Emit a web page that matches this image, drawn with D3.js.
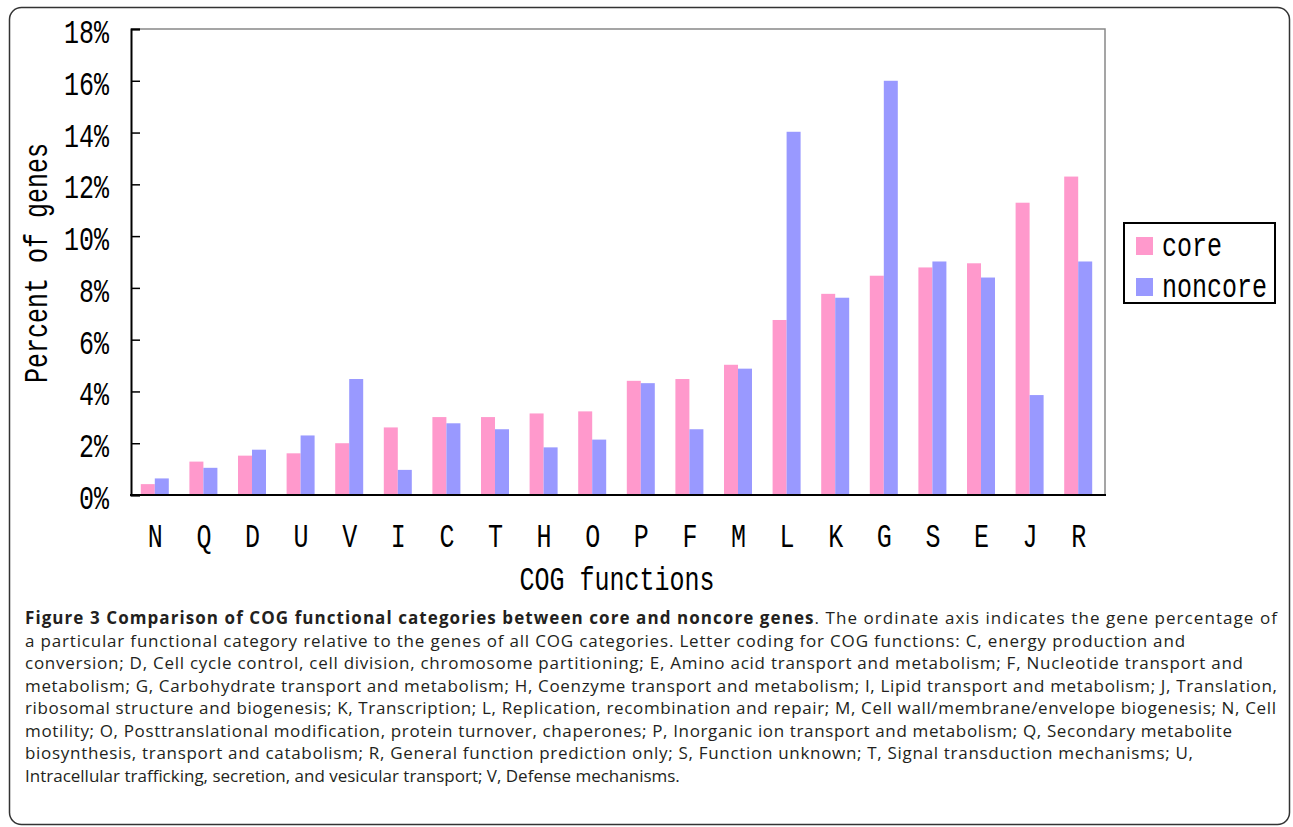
<!DOCTYPE html>
<html>
<head>
<meta charset="utf-8">
<script src="https://cdn.jsdelivr.net/npm/d3@7"></script>
<style>
	body { margin: 0; background: #fff; }
	svg { display: block; }
	.mono { font-family: "Liberation Mono", "Courier New", monospace; fill: #000; }
	.caption { font-family: "Open Sans", "Noto Sans", sans-serif; font-size: 17px; fill: #231f20; }
</style>
</head>
<body>
<div id="chart"></div>
<script>
// data (percent of genes)
const categories = ['N', 'Q', 'D', 'U', 'V', 'I', 'C', 'T', 'H', 'O', 'P', 'F', 'M', 'L', 'K', 'G', 'S', 'E', 'J', 'R'];
const core = [0.42, 1.29, 1.52, 1.61, 2.0, 2.61, 3.01, 3.01, 3.15, 3.23, 4.41, 4.48, 5.03, 6.76, 7.77, 8.47, 8.79, 8.95, 11.29, 12.3];
const noncore = [0.64, 1.05, 1.75, 2.30, 4.48, 0.97, 2.77, 2.54, 1.84, 2.14, 4.32, 2.54, 4.88, 14.03, 7.62, 16.0, 9.02, 8.4, 3.86, 9.02];
const seriesNames = ['core', 'noncore'];
const yTicks = [0, 2, 4, 6, 8, 10, 12, 14, 16, 18];
const captionBold = 'Figure 3 Comparison of COG functional categories between core and noncore genes';
const captionLines = [
	'. The ordinate axis indicates the gene percentage of',
	'a particular functional category relative to the genes of all COG categories. Letter coding for COG functions: C, energy production and',
	'conversion; D, Cell cycle control, cell division, chromosome partitioning; E, Amino acid transport and metabolism; F, Nucleotide transport and',
	'metabolism; G, Carbohydrate transport and metabolism; H, Coenzyme transport and metabolism; I, Lipid transport and metabolism; J, Translation,',
	'ribosomal structure and biogenesis; K, Transcription; L, Replication, recombination and repair; M, Cell wall/membrane/envelope biogenesis; N, Cell',
	'motility; O, Posttranslational modification, protein turnover, chaperones; P, Inorganic ion transport and metabolism; Q, Secondary metabolite',
	'biosynthesis, transport and catabolism; R, General function prediction only; S, Function unknown; T, Signal transduction mechanisms; U,',
	'Intracellular trafficking, secretion, and vesicular transport; V, Defense mechanisms.'
];

const options = {
	w: 1293,
	h: 827,
	left: 131,
	right: 1103,
	top: 29,
	bottom: 495,
	barW: 14,
	stretch: 1.3,
	colors: ['#ff99cc', '#9999ff']
};

const data = categories.map((c, i) => ({ cat: c, core: core[i], noncore: noncore[i] }));

const svg = d3.select('#chart')
	.append('svg')
	.attr('width', options.w)
	.attr('height', options.h);

// outer frame
svg.append('rect')
	.attr('x', 9.5).attr('y', 7.5)
	.attr('width', 1280).attr('height', 817)
	.attr('rx', 12).attr('ry', 12)
	.attr('fill', 'none')
	.attr('stroke', '#333')
	.attr('stroke-width', 1.5);

const xScale0 = d3.scaleBand().domain(categories).range([options.left, options.right]);
const xScale1 = d3.scaleBand().domain(seriesNames).range([0, options.barW * 2]);
const yScale = d3.scaleLinear().domain([0, 18]).range([options.bottom, options.top]);

// top / right frame of the plot (gray)
svg.append('path')
	.attr('d', `M${options.left},${options.top}H1105V${options.bottom}`)
	.attr('fill', 'none')
	.attr('stroke', '#888')
	.attr('stroke-width', 1.5);

// bars
const group = svg.selectAll('.group')
	.data(data)
	.enter().append('g')
	.attr('class', 'group')
	.attr('transform', d => `translate(${xScale0(d.cat) + xScale0.bandwidth() / 2 - options.barW - 0.5},0)`);

seriesNames.forEach((s, si) => {
	group.append('rect')
		.attr('class', 'bar ' + s)
		.attr('x', xScale1(s))
		.attr('y', d => yScale(d[s]))
		.attr('width', xScale1.bandwidth())
		.attr('height', d => options.bottom - yScale(d[s]))
		.attr('fill', options.colors[si]);
});

// y axis
const yAxis = d3.axisRight(yScale).tickValues(yTicks).tickSize(9).tickFormat(d => d + '%');
const yG = svg.append('g')
	.attr('transform', `translate(${options.left},0)`)
	.call(yAxis);
yG.select('.domain').attr('stroke', '#000').attr('stroke-width', 2);
yG.selectAll('.tick line').attr('stroke', '#000').attr('stroke-width', 1.5);
yG.selectAll('.tick text')
	.attr('class', 'mono')
	.attr('font-size', 25)
	.attr('text-anchor', 'end')
	.attr('x', -22)
	.attr('dy', null)
	.attr('y', 13.5 / options.stretch)
	.attr('transform', `scale(1,${options.stretch})`);

// x axis
const xAxis = d3.axisBottom(xScale0).tickSize(0).tickSizeOuter(0);
const xG = svg.append('g')
	.attr('transform', `translate(0,${options.bottom})`)
	.call(xAxis);
xG.select('.domain')
	.attr('d', `M${options.left - 1},0H1106`)
	.attr('stroke', '#000')
	.attr('stroke-width', 2);
xG.selectAll('.tick text')
	.attr('class', 'mono')
	.attr('font-size', 25)
	.attr('dy', null)
	.attr('y', 52 / options.stretch)
	.attr('transform', `scale(1,${options.stretch})`);

// axis titles
svg.append('text')
	.attr('class', 'mono')
	.attr('font-size', 25)
	.attr('text-anchor', 'middle')
	.attr('transform', `translate(617,590) scale(1,${options.stretch})`)
	.text('COG functions');

svg.append('text')
	.attr('class', 'mono')
	.attr('font-size', 25)
	.attr('text-anchor', 'middle')
	.attr('transform', `translate(47,263) rotate(-90) scale(1,${options.stretch})`)
	.text('Percent of genes');

// legend
const legend = svg.append('g').attr('class', 'legend');
legend.append('rect')
	.attr('x', 1124).attr('y', 223)
	.attr('width', 151).attr('height', 80)
	.attr('fill', '#fff')
	.attr('stroke', '#000')
	.attr('stroke-width', 2);

const legendRow = legend.selectAll('.row')
	.data(seriesNames)
	.enter().append('g')
	.attr('transform', (d, i) => `translate(1136,${237 + i * 41})`);
legendRow.append('rect')
	.attr('width', 17).attr('height', 18)
	.attr('fill', (d, i) => options.colors[i]);
legendRow.append('text')
	.attr('class', 'mono')
	.attr('font-size', 25)
	.attr('x', 26)
	.attr('y', 18.5 / options.stretch)
	.attr('transform', `scale(1,${options.stretch})`)
	.text(d => d);

// caption
const lineTargets = [1277, 1185, 1243, 1277, 1276, 1232, 1193, null];
const cap = svg.append('g').attr('class', 'caption');
captionLines.forEach((line, i) => {
	const t = cap.append('text')
		.attr('class', 'caption')
		.attr('x', 25)
		.attr('y', 624 + i * 22.5);
	if(i === 0) {
		t.append('tspan').attr('font-weight', 'bold').text(captionBold);
		t.append('tspan').text(line);
	} else {
		t.text(line);
	}
	const target = lineTargets[i];
	if(target) {
		const natural = t.node().getComputedTextLength();
		const n = (i === 0 ? captionBold.length + line.length : line.length) - 1;
		t.attr('letter-spacing', ((target - 25 - natural) / n).toFixed(3));
	}
});
</script>
</body>
</html>
